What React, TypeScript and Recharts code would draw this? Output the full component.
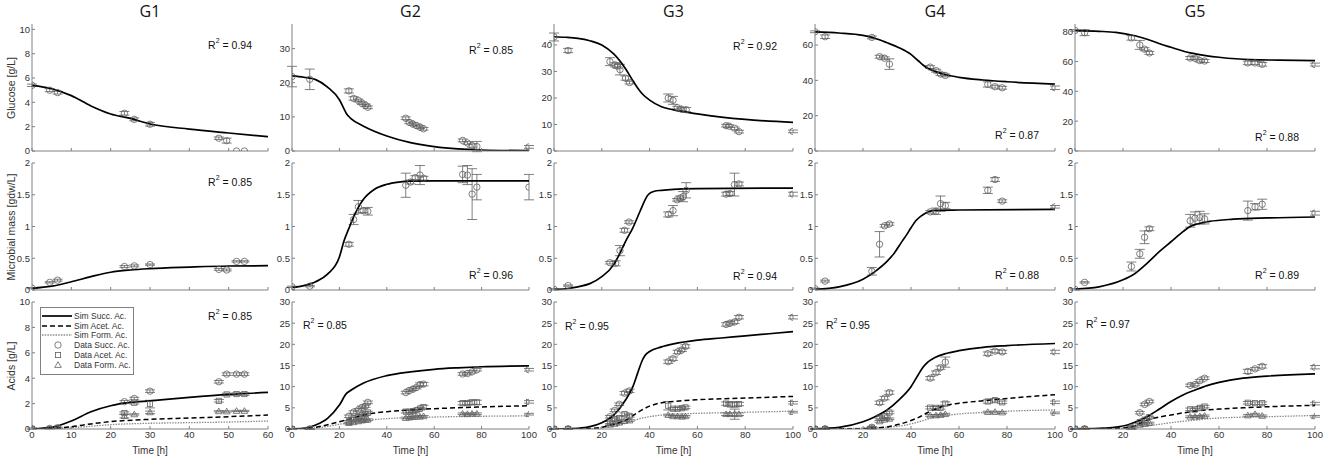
import React from "react";
import { ComposedChart, Line, Scatter, XAxis, YAxis, ErrorBar } from "recharts";

type Sim = [number, number][];
type Obs = [number, number, number][];

// ---------- G1 ----------
const G1_GLC_SIM: Sim = [[0, 5.4], [5, 5.12], [10, 4.55], [15, 3.7], [20, 3.04], [25, 2.68], [30, 2.22], [40, 1.8], [50, 1.48], [60, 1.18]];
const G1_GLC_OBS: Obs = [[0, 5.4, 0.1], [4.5, 5.0, 0.12], [6.5, 4.8, 0.12], [23.5, 3.1, 0.15], [26, 2.6, 0.12], [30, 2.2, 0.15], [47.5, 1.05, 0.1], [49.5, 0.85, 0.2], [52, 0, 0], [54, 0, 0]];
const G1_BIO_SIM: Sim = [[0, 0.026], [5, 0.06], [10, 0.13], [15, 0.21], [20, 0.28], [25, 0.315], [30, 0.336], [40, 0.36], [50, 0.378], [60, 0.383]];
const G1_BIO_OBS: Obs = [[0, 0.03, 0.01], [4.5, 0.12, 0.01], [6.5, 0.155, 0.015], [23.5, 0.37, 0.015], [26, 0.38, 0.015], [30, 0.4, 0.01], [47.5, 0.325, 0.015], [49.5, 0.315, 0.015], [52, 0.45, 0.01], [54, 0.45, 0.01]];
const G1_SUC_SIM: Sim = [[0, 0.02], [5, 0.13], [10, 0.63], [15, 1.36], [20, 1.83], [25, 2.09], [30, 2.22], [40, 2.49], [50, 2.72], [60, 2.88]];
const G1_ACE_SIM: Sim = [[0, 0], [5, 0.05], [10, 0.18], [15, 0.4], [20, 0.58], [30, 0.76], [40, 0.86], [50, 0.97], [60, 1.1]];
const G1_FOR_SIM: Sim = [[0, 0], [5, 0.03], [10, 0.1], [15, 0.22], [20, 0.34], [30, 0.45], [40, 0.5], [50, 0.55], [60, 0.63]];
const G1_SUC_OBS: Obs = [[0, 0.03, 0.05], [4.5, 0.05, 0.05], [6.5, 0.1, 0.05], [23.5, 2.15, 0.1], [26, 2.4, 0.1], [30, 2.98, 0.1], [47.5, 3.72, 0.1], [49.5, 4.32, 0.1], [52, 4.32, 0.1], [54, 4.32, 0.1]];
const G1_ACE_OBS: Obs = [[0, 0, 0], [4.5, 0, 0], [6.5, 0.05, 0], [23.5, 1.25, 0.1], [26, 2.07, 0.1], [30, 1.96, 0.3], [47.5, 2.22, 0.1], [49.5, 2.72, 0.1], [52, 2.75, 0.1], [54, 2.75, 0.1]];
const G1_FOR_OBS: Obs = [[0, 0, 0], [4.5, 0, 0], [6.5, 0, 0], [23.5, 1.02, 0.15], [26, 1.15, 0.05], [30, 1.31, 0.1], [47.5, 1.39, 0.05], [49.5, 1.38, 0.05], [52, 1.42, 0.05], [54, 1.42, 0.05]];

// ---------- G2 ----------
const G2_GLC_SIM: Sim = [[0, 22.0], [5, 21.6], [10, 20.9], [15, 18.7], [20, 15.0], [22, 12.3], [23, 10.9], [24, 10.1], [25, 9.4], [30, 7.35], [40, 4.4], [50, 2.45], [60, 1.27], [70, 0.6], [80, 0.3], [100, 0.1]];
const G2_GLC_OBS: Obs = [[0, 21.8, 3], [7.5, 21.0, 3], [24, 17.6, 0.6], [26, 15.4, 0.5], [28, 14.8, 0.4], [29.5, 14.0, 0.4], [31, 13.4, 0.4], [32, 12.8, 0.4], [48, 9.6, 0.4], [49.5, 8.4, 0.4], [51, 7.9, 0.4], [52.5, 7.45, 0.4], [54, 7.0, 0.4], [55.5, 6.5, 0.4], [72, 3.1, 0.4], [74, 2.35, 0.4], [76, 1.6, 0.5], [78, 1.3, 1.5], [100, 1.2, 0.4]];
const G2_BIO_SIM: Sim = [[0, 0.04], [5, 0.07], [10, 0.13], [15, 0.25], [20, 0.52], [22, 0.78], [24, 0.97], [26, 1.15], [28, 1.3], [30, 1.42], [35, 1.59], [40, 1.665], [45, 1.7], [50, 1.715], [60, 1.72], [100, 1.72]];
const G2_BIO_OBS: Obs = [[0, 0.05, 0.01], [7.5, 0.06, 0.01], [24, 0.72, 0.03], [26, 1.11, 0.08], [28, 1.31, 0.1], [30, 1.25, 0.03], [32, 1.24, 0.06], [48, 1.65, 0.19], [50, 1.7, 0.03], [52, 1.77, 0.03], [54, 1.81, 0.15], [55.5, 1.76, 0.03], [72, 1.82, 0.13], [74, 1.81, 0.15], [76, 1.51, 0.4], [78, 1.62, 0.2], [100, 1.62, 0.2]];
const G2_SUC_SIM: Sim = [[0, 0.05], [5, 0.15], [10, 0.95], [15, 2.5], [20, 5.65], [23, 8.4], [25, 9.2], [30, 10.8], [40, 12.6], [50, 13.5], [60, 14.1], [70, 14.45], [80, 14.7], [100, 14.9]];
const G2_ACE_SIM: Sim = [[0, 0], [5, 0.1], [10, 0.4], [15, 1.0], [20, 1.73], [25, 2.5], [30, 3.3], [40, 4.1], [50, 4.5], [60, 4.8], [80, 5.2], [100, 5.5]];
const G2_FOR_SIM: Sim = [[0, 0], [5, 0.08], [10, 0.25], [15, 0.6], [20, 1.1], [25, 1.55], [30, 1.95], [40, 2.45], [50, 2.7], [60, 2.83], [80, 3.0], [100, 3.1]];
const G2_SUC_OBS: Obs = [[0, 0, 0.1], [7.5, 0, 0.1], [24, 3.0, 0.3], [26, 4.0, 0.3], [28, 4.5, 0.3], [29.5, 5.1, 0.3], [31, 5.4, 0.3], [32, 6.3, 0.3], [48, 8.6, 0.3], [49.5, 9.1, 0.3], [51, 9.4, 0.3], [52.5, 9.8, 0.3], [54, 10.5, 0.4], [55.5, 10.6, 0.4], [72, 13.0, 0.3], [74, 13.1, 0.3], [76, 13.5, 0.3], [78, 14.0, 0.3], [100, 14.0, 0.3]];
const G2_ACE_OBS: Obs = [[0, 0, 0.1], [7.5, 0, 0.1], [24, 1.7, 0.3], [26, 2.5, 0.3], [28, 2.8, 0.3], [29.5, 3.2, 0.3], [31, 3.5, 0.3], [32, 3.9, 0.3], [48, 4.1, 0.3], [49.5, 4.1, 0.3], [51, 4.2, 0.3], [52.5, 4.4, 0.3], [54, 4.8, 0.3], [55.5, 5.2, 0.4], [72, 6.1, 0.4], [74, 6.1, 0.4], [76, 6.3, 0.5], [78, 6.3, 0.5], [100, 6.4, 0.3]];
const G2_FOR_OBS: Obs = [[0, 0, 0.1], [7.5, 0, 0.1], [24, 1.4, 0.2], [26, 1.6, 0.2], [28, 1.8, 0.2], [29.5, 2.0, 0.2], [31, 2.1, 0.2], [32, 2.2, 0.2], [48, 2.6, 0.2], [49.5, 2.7, 0.2], [51, 2.8, 0.2], [52.5, 2.9, 0.2], [54, 2.9, 0.2], [55.5, 3.0, 0.2], [72, 3.6, 0.2], [74, 3.5, 0.2], [76, 3.6, 0.2], [78, 3.6, 0.2], [100, 3.5, 0.2]];

// ---------- G3 ----------
const G3_GLC_SIM: Sim = [[0, 43.1], [5, 42.9], [10, 42.5], [15, 41.6], [20, 40.0], [25, 36.6], [30, 30.9], [33, 26.5], [35, 23.8], [37, 21.5], [40, 19.2], [45, 16.7], [50, 15.5], [60, 14.0], [70, 12.8], [80, 11.9], [100, 10.8]];
const G3_GLC_OBS: Obs = [[0, 43.0, 1.5], [5.9, 37.9, 0.8], [23.4, 33.7, 1.5], [25.5, 32.5, 0.8], [26.6, 32.0, 0.8], [27.6, 30.7, 2], [29.9, 27.5, 0.8], [31.6, 25.8, 0.5], [47.8, 20.0, 1.5], [49.8, 19.1, 1.5], [51.6, 16.35, 0.5], [53.3, 15.8, 0.5], [55.3, 15.6, 0.8], [72, 9.56, 0.5], [73.2, 9.4, 0.5], [75.6, 8.55, 0.5], [77.4, 7.3, 0.5], [100, 7.4, 0.5]];
const G3_BIO_SIM: Sim = [[0, 0.01], [5, 0.02], [10, 0.05], [15, 0.1], [20, 0.21], [25, 0.4], [28, 0.61], [30, 0.77], [33, 0.98], [36, 1.24], [38, 1.41], [39, 1.48], [40, 1.52], [42, 1.555], [45, 1.57], [50, 1.585], [60, 1.595], [100, 1.605]];
const G3_BIO_OBS: Obs = [[0, 0.01, 0.01], [5.9, 0.07, 0.01], [23.4, 0.43, 0.02], [25.8, 0.42, 0.04], [27.6, 0.62, 0.08], [29.5, 0.94, 0.03], [31.4, 1.07, 0.02], [47.8, 1.19, 0.04], [49.8, 1.25, 0.08], [51.5, 1.42, 0.02], [52.9, 1.45, 0.03], [54, 1.47, 0.08], [55.3, 1.57, 0.12], [72, 1.51, 0.03], [73.6, 1.52, 0.03], [75.5, 1.66, 0.18], [77.4, 1.67, 0.03], [100, 1.51, 0.03]];
const G3_SUC_SIM: Sim = [[0, 0], [5, 0.02], [10, 0.15], [15, 0.55], [20, 1.5], [25, 3.3], [30, 6.9], [33, 10.0], [35, 13.2], [37, 16.3], [38, 17.3], [40, 18.3], [45, 19.4], [50, 20.1], [60, 21.0], [70, 21.5], [80, 22.0], [100, 23.0]];
const G3_ACE_SIM: Sim = [[0, 0], [15, 0.1], [20, 0.4], [25, 1.1], [30, 2.1], [35, 3.9], [40, 5.4], [45, 6.2], [50, 6.5], [60, 6.9], [80, 7.3], [100, 7.7]];
const G3_FOR_SIM: Sim = [[0, 0], [15, 0.08], [20, 0.3], [25, 0.8], [30, 1.35], [35, 2.3], [40, 2.9], [45, 3.3], [50, 3.5], [60, 3.7], [80, 3.95], [100, 4.2]];
const G3_SUC_OBS: Obs = [[0, 0.05, 0.1], [5.9, 0.05, 0.1], [23.4, 2.9, 0.3], [25.4, 4.4, 0.3], [27.3, 5.85, 0.3], [29.5, 8.45, 0.4], [31.6, 9.0, 0.4], [47.8, 15.9, 0.4], [49.8, 16.6, 0.4], [51.7, 18.2, 0.4], [53.5, 18.7, 0.4], [55, 19.5, 0.4], [72, 24.7, 0.4], [73.6, 25.0, 0.4], [75.6, 25.3, 0.4], [77.4, 26.4, 0.4], [100, 26.4, 0.4]];
const G3_ACE_OBS: Obs = [[0, 0, 0.1], [5.9, 0, 0.1], [23.4, 1.5, 0.3], [25.4, 2.3, 0.3], [27.3, 2.6, 0.3], [29.5, 3.5, 0.3], [31.6, 3.1, 0.3], [47.8, 5.5, 1.0], [49.8, 4.8, 0.3], [51.7, 4.8, 0.3], [53.5, 4.9, 0.3], [55, 5.1, 0.3], [72, 6.0, 0.4], [73.6, 5.8, 0.4], [75.6, 5.8, 0.6], [77.4, 5.9, 0.4], [100, 6.2, 0.3]];
const G3_FOR_OBS: Obs = [[0, 0, 0.1], [5.9, 0, 0.1], [23.4, 1.0, 0.2], [25.4, 1.2, 0.2], [27.3, 1.5, 0.2], [29.5, 1.9, 0.2], [31.6, 2.0, 0.2], [47.8, 3.3, 0.2], [49.8, 3.0, 0.2], [51.7, 3.0, 0.2], [53.5, 2.9, 0.2], [55, 3.0, 0.2], [72, 3.5, 0.3], [73.6, 3.5, 0.3], [75.6, 3.5, 1.2], [77.4, 3.5, 0.3], [100, 4.0, 0.2]];

// ---------- G4 ----------
const G4_GLC_SIM: Sim = [[0, 67.4], [10, 66.8], [20, 65.5], [25, 63.8], [30, 61.3], [35, 58.5], [40, 54.7], [43, 51.1], [45, 48.7], [47, 46.8], [50, 45.1], [55, 43.0], [60, 41.7], [70, 40.2], [80, 39.2], [100, 37.9]];
const G4_GLC_OBS: Obs = [[0, 67.5, 0.5], [4.2, 64.7, 1], [23.7, 64.3, 0.8], [26.9, 53.4, 0.8], [29, 52.5, 0.8], [31, 49.2, 3], [48, 47.5, 0.8], [50.4, 45.5, 0.8], [52.3, 43.6, 0.8], [54.3, 42.8, 0.8], [72, 37.7, 1.5], [75, 36.4, 0.8], [78, 35.8, 0.8], [100, 35.8, 1]];
const G4_BIO_SIM: Sim = [[0, 0.01], [10, 0.05], [20, 0.17], [25, 0.29], [30, 0.45], [33, 0.58], [36, 0.75], [38, 0.86], [40, 0.98], [42, 1.09], [44, 1.16], [46, 1.21], [48, 1.24], [50, 1.255], [60, 1.26], [100, 1.27]];
const G4_BIO_OBS: Obs = [[0, 0.02, 0.01], [4.2, 0.14, 0.015], [23.7, 0.295, 0.06], [26.9, 0.72, 0.2], [29, 1.01, 0.02], [31, 1.04, 0.02], [48, 1.23, 0.02], [50.4, 1.24, 0.05], [52.3, 1.36, 0.12], [54.3, 1.33, 0.05], [72, 1.57, 0.05], [75, 1.74, 0.03], [78, 1.4, 0.02], [100, 1.31, 0.02]];
const G4_SUC_SIM: Sim = [[0, 0.05], [10, 0.4], [20, 1.7], [25, 2.9], [30, 4.5], [35, 6.9], [40, 10.0], [43, 12.8], [45, 14.6], [47, 15.8], [50, 16.9], [55, 17.9], [60, 18.5], [70, 19.3], [80, 19.7], [100, 20.2]];
const G4_ACE_SIM: Sim = [[0, 0], [20, 0.1], [30, 0.5], [35, 1.1], [40, 2.0], [43, 2.7], [47, 3.9], [50, 4.65], [54, 5.5], [60, 6.1], [71, 6.7], [80, 7.2], [100, 8.1]];
const G4_FOR_SIM: Sim = [[0, 0], [30, 0.4], [40, 1.2], [45, 2.0], [50, 2.8], [55, 3.2], [60, 3.55], [70, 3.9], [80, 4.2], [100, 4.5]];
const G4_SUC_OBS: Obs = [[0, 0.05, 0.1], [4.2, 0.05, 0.1], [23.7, 0.4, 0.2], [26.9, 6.2, 0.4], [29, 7.3, 0.4], [31, 8.6, 0.4], [48, 12.0, 0.4], [50.4, 13.3, 0.4], [52.3, 14.5, 0.4], [54.3, 15.8, 1.2], [72, 17.8, 0.4], [75, 18.4, 0.4], [78, 18.2, 0.4], [100, 18.2, 0.4]];
const G4_ACE_OBS: Obs = [[0, 0, 0.1], [4.2, 0, 0.1], [23.7, 0.3, 0.2], [26.9, 2.7, 0.3], [29, 3.0, 0.3], [31, 3.9, 0.3], [48, 5.05, 0.3], [50.4, 5.0, 0.3], [52.3, 5.0, 0.3], [54.3, 6.0, 0.4], [72, 6.5, 0.4], [75, 6.8, 0.4], [78, 6.3, 0.3], [100, 6.3, 0.3]];
const G4_FOR_OBS: Obs = [[0, 0, 0.1], [4.2, 0, 0.1], [23.7, 0.1, 0.1], [26.9, 1.8, 0.2], [29, 2.2, 0.2], [31, 2.4, 0.2], [48, 3.2, 0.2], [50.4, 3.2, 0.2], [52.3, 3.3, 0.2], [54.3, 3.5, 0.2], [72, 4.0, 0.2], [75, 4.0, 0.2], [78, 3.9, 0.2], [100, 3.8, 0.2]];

// ---------- G5 ----------
const G5_GLC_SIM: Sim = [[0, 80.7], [10, 80.2], [17, 79.5], [25, 77.2], [31, 74.4], [35, 72.0], [40, 69.5], [48, 65.7], [55, 63.8], [60, 62.8], [73, 61.2], [85, 60.9], [100, 60.6]];
const G5_GLC_OBS: Obs = [[0, 80.8, 0.5], [4, 79.3, 2], [23.5, 75.8, 1.5], [27, 71.1, 3], [29, 68.2, 1], [31, 65.7, 1], [48, 62.3, 1], [50, 62.1, 1], [52, 60.6, 1], [54, 60.3, 1], [72, 59.0, 1.2], [75, 59.0, 1], [78, 58.1, 1.2], [100, 57.9, 1]];
const G5_BIO_SIM: Sim = [[0, 0.015], [10, 0.05], [20, 0.16], [25, 0.26], [30, 0.42], [35, 0.6], [40, 0.76], [45, 0.92], [48, 1.0], [50, 1.03], [56, 1.08], [66, 1.115], [80, 1.135], [100, 1.15]];
const G5_BIO_OBS: Obs = [[0, 0.01, 0.01], [4, 0.12, 0.01], [23.5, 0.37, 0.07], [27, 0.57, 0.07], [29, 0.83, 0.1], [31, 0.965, 0.03], [48, 1.09, 0.1], [50, 1.13, 0.1], [52, 1.14, 0.1], [54, 1.12, 0.08], [72, 1.25, 0.15], [75, 1.31, 0.05], [78, 1.35, 0.08], [100, 1.21, 0.03]];
const G5_SUC_SIM: Sim = [[0, 0.05], [10, 0.15], [20, 0.7], [25, 1.6], [30, 2.9], [35, 4.65], [40, 6.5], [45, 8.05], [50, 9.2], [55, 10.25], [60, 11.0], [70, 12.0], [80, 12.5], [100, 13.0]];
const G5_ACE_SIM: Sim = [[0, 0], [20, 0.25], [25, 0.8], [30, 2.1], [35, 2.8], [40, 3.3], [45, 3.8], [50, 4.2], [60, 4.7], [70, 5.0], [80, 5.25], [100, 5.6]];
const G5_FOR_SIM: Sim = [[0, 0], [20, 0.15], [30, 0.7], [40, 1.5], [50, 2.1], [60, 2.6], [80, 2.9], [100, 3.2]];
const G5_SUC_OBS: Obs = [[0, 0.05, 0.1], [4, 0.05, 0.1], [23.5, 0.4, 0.2], [27, 3.85, 0.3], [29, 5.8, 0.3], [31, 6.5, 0.3], [48, 10.3, 0.3], [50, 10.5, 0.3], [52, 11.4, 0.3], [54, 12.0, 0.3], [72, 13.6, 0.5], [75, 14.2, 0.3], [78, 14.8, 0.4], [100, 14.6, 0.4]];
const G5_ACE_OBS: Obs = [[0, 0, 0.1], [4, 0, 0.1], [23.5, 0.2, 0.2], [27, 1.6, 0.2], [29, 2.2, 0.2], [31, 2.8, 0.2], [48, 4.65, 0.3], [50, 4.6, 0.3], [52, 5.0, 0.3], [54, 5.3, 0.3], [72, 6.2, 0.3], [75, 6.1, 0.3], [78, 6.1, 0.3], [100, 6.0, 0.3]];
const G5_FOR_OBS: Obs = [[0, 0, 0.1], [4, 0, 0.1], [23.5, 0, 0.1], [27, 1.0, 0.2], [29, 1.2, 0.2], [31, 1.4, 0.2], [48, 2.9, 0.2], [50, 2.9, 0.2], [52, 3.0, 0.2], [54, 3.1, 0.2], [72, 3.2, 0.2], [75, 3.5, 0.2], [78, 3.1, 0.2], [100, 3.0, 0.2]];

// axes
const GROUPS = ["G1", "G2", "G3", "G4", "G5"];
const X_MAX = [60, 100, 100, 100, 100];
const X_TICKS_60 = [0, 10, 20, 30, 40, 50, 60];
const X_TICKS_100 = [0, 20, 40, 60, 80, 100];
const GLC_MAX = [10.44, 37.2, 47.9, 71.9, 85.1];
const GLC_TICKS = [[0, 2, 4, 6, 8, 10], [0, 10, 20, 30], [0, 10, 20, 30, 40], [0, 20, 40, 60], [0, 20, 40, 60, 80]];
const BIO_TICKS = [0, 0.5, 1, 1.5, 2];
const ACID_MAX = [10, 30, 30, 30, 30];
const ACID_TICKS = [[0, 2, 4, 6, 8, 10], [0, 5, 10, 15, 20, 25, 30], [0, 5, 10, 15, 20, 25, 30], [0, 5, 10, 15, 20, 25, 30], [0, 5, 10, 15, 20, 25, 30]];
const R2_GLC = ["0.94", "0.85", "0.92", "0.87", "0.88"];
const R2_BIO = ["0.85", "0.96", "0.94", "0.88", "0.89"];
const R2_ACID = ["0.85", "0.85", "0.95", "0.95", "0.97"];
const ROW_LABELS = ["Glucose [g/L]", "Microbial mass [gdw/L]", "Acids [g/L]"];

const GLC_SIM = [G1_GLC_SIM, G2_GLC_SIM, G3_GLC_SIM, G4_GLC_SIM, G5_GLC_SIM];
const GLC_OBS = [G1_GLC_OBS, G2_GLC_OBS, G3_GLC_OBS, G4_GLC_OBS, G5_GLC_OBS];
const BIO_SIM = [G1_BIO_SIM, G2_BIO_SIM, G3_BIO_SIM, G4_BIO_SIM, G5_BIO_SIM];
const BIO_OBS = [G1_BIO_OBS, G2_BIO_OBS, G3_BIO_OBS, G4_BIO_OBS, G5_BIO_OBS];
const SUC_SIM = [G1_SUC_SIM, G2_SUC_SIM, G3_SUC_SIM, G4_SUC_SIM, G5_SUC_SIM];
const ACE_SIM = [G1_ACE_SIM, G2_ACE_SIM, G3_ACE_SIM, G4_ACE_SIM, G5_ACE_SIM];
const FOR_SIM = [G1_FOR_SIM, G2_FOR_SIM, G3_FOR_SIM, G4_FOR_SIM, G5_FOR_SIM];
const SUC_OBS = [G1_SUC_OBS, G2_SUC_OBS, G3_SUC_OBS, G4_SUC_OBS, G5_SUC_OBS];
const ACE_OBS = [G1_ACE_OBS, G2_ACE_OBS, G3_ACE_OBS, G4_ACE_OBS, G5_ACE_OBS];
const FOR_OBS = [G1_FOR_OBS, G2_FOR_OBS, G3_FOR_OBS, G4_FOR_OBS, G5_FOR_OBS];

// layout (plot-area boxes in page pixels)
const COL_LEFT = [32, 292, 554, 815, 1075];
const COL_RIGHT = [268, 529, 793, 1055, 1315];
const ROW_TOP = [24, 163, 302];
const ROW_BOTTOM = [151, 290, 429];
const Y_W = 30;
const X_H = 20;
const PAD = 5;
const PAD_R = 12;

const FONT = "'Liberation Sans', Arial, sans-serif";
const AXIS = "#808080";
const TXT = "#333333";
const MARK = "#606060";

type LineKind = "solid" | "dash" | "dot";
type MarkKind = "circle" | "square" | "triangle";

const LINE_STYLE: Record<LineKind, { stroke: string; width: number; dash?: string }> = {
  solid: { stroke: "#000", width: 1.7 },
  dash: { stroke: "#000", width: 1.5, dash: "5 3" },
  dot: { stroke: "#8a8a8a", width: 1.3, dash: "1.5 1.2" },
};

function markShape(kind: MarkKind) {
  return (p: any) => {
    const { cx, cy } = p;
    if (cx == null || cy == null) return <g />;
    if (kind === "circle") return <circle cx={cx} cy={cy} r={3.2} fill="none" stroke={MARK} strokeWidth={0.8} />;
    if (kind === "square") return <rect x={cx - 2.6} y={cy - 2.6} width={5.2} height={5.2} fill="none" stroke={MARK} strokeWidth={0.8} />;
    return <polygon points={`${cx},${cy - 3.3} ${cx + 3.3},${cy + 2.4} ${cx - 3.3},${cy + 2.4}`} fill="none" stroke={MARK} strokeWidth={0.8} />;
  };
}

type R2At = { corner: "tr" | "br" | "tl"; dy: number };

interface PanelProps {
  col: number;
  row: number;
  yMax: number;
  yTicks: number[];
  lines: { data: Sim; kind: LineKind }[];
  marks: { data: Obs; kind: MarkKind }[];
  r2: string;
  r2At: R2At;
}

function Panel({ col, row, yMax, yTicks, lines, marks, r2, r2At }: PanelProps) {
  const L = COL_LEFT[col];
  const R = COL_RIGHT[col];
  const T = ROW_TOP[row];
  const B = ROW_BOTTOM[row];
  const w = R - L;
  const h = B - T;
  const xMax = X_MAX[col];
  const xTicks = xMax === 60 ? X_TICKS_60 : X_TICKS_100;
  const showX = row === 2;
  const tickFont = { fontSize: 9.5, fill: TXT, fontFamily: FONT };

  let r2Style: React.CSSProperties;
  if (r2At.corner === "tl") r2Style = { left: L + 11, top: T + r2At.dy, transform: "translateY(-50%)" };
  else if (r2At.corner === "tr") r2Style = { left: R - 16, top: T + r2At.dy, transform: "translate(-100%, -50%)" };
  else r2Style = { left: R - 16, top: B - r2At.dy, transform: "translate(-100%, -50%)" };

  return (
    <>
      <div style={{ position: "absolute", left: L - Y_W, top: T - PAD }}>
        <ComposedChart width={w + Y_W + PAD_R} height={h + PAD + X_H} margin={{ top: PAD, right: PAD_R, bottom: 0, left: 0 }}>
          <XAxis
            xAxisId="b"
            dataKey="t"
            type="number"
            domain={[0, xMax]}
            ticks={xTicks}
            interval={0}
            allowDataOverflow
            height={X_H}
            tickSize={-3}
            tickMargin={5}
            stroke={AXIS}
            tick={tickFont}
            tickFormatter={(v: number) => (showX ? String(v) : "")}
          />
          <XAxis
            xAxisId="t"
            orientation="top"
            type="number"
            domain={[0, xMax]}
            ticks={xTicks}
            interval={0}
            allowDataOverflow
            height={0}
            tickSize={-3}
            stroke={AXIS}
            tick={tickFont}
            tickFormatter={() => ""}
          />
          <YAxis
            yAxisId="l"
            dataKey="y"
            type="number"
            domain={[0, yMax]}
            ticks={yTicks}
            interval={0}
            allowDataOverflow
            width={Y_W}
            tickSize={-3}
            tickMargin={5}
            stroke={AXIS}
            tick={tickFont}
          />
          <YAxis
            yAxisId="r"
            orientation="right"
            type="number"
            domain={[0, yMax]}
            ticks={yTicks}
            interval={0}
            allowDataOverflow
            width={0}
            tickSize={-3}
            stroke={AXIS}
            tick={tickFont}
            tickFormatter={() => ""}
          />
          {marks.map((m, i) => (
            <Scatter
              key={`m${i}`}
              xAxisId="b"
              yAxisId="l"
              data={m.data.map(([t, y, e]) => ({ t, y, e }))}
              shape={markShape(m.kind)}
              isAnimationActive={false}
            >
              <ErrorBar dataKey="e" direction="y" width={5} stroke={MARK} strokeWidth={0.8} />
            </Scatter>
          ))}
          {lines.map((ln, i) => {
            const s = LINE_STYLE[ln.kind];
            return (
              <Line
                key={`l${i}`}
                xAxisId="b"
                yAxisId="l"
                data={ln.data.map(([t, y]) => ({ t, y }))}
                dataKey="y"
                type="monotone"
                dot={false}
                activeDot={false}
                stroke={s.stroke}
                strokeWidth={s.width}
                strokeDasharray={s.dash}
                isAnimationActive={false}
              />
            );
          })}
        </ComposedChart>
      </div>
      <div style={{ position: "absolute", whiteSpace: "nowrap", fontFamily: FONT, fontSize: 10.5, color: "#111", lineHeight: "12px", ...r2Style }}>
        R<span style={{ fontSize: 7, verticalAlign: "top", lineHeight: "8px", position: "relative", top: -2 }}>2</span> = {r2}
      </div>
    </>
  );
}

const LEGEND_ITEMS: { label: string; line?: LineKind; mark?: MarkKind }[] = [
  { label: "Sim Succ. Ac.", line: "solid" },
  { label: "Sim Acet. Ac.", line: "dash" },
  { label: "Sim Form. Ac.", line: "dot" },
  { label: "Data Succ. Ac.", mark: "circle" },
  { label: "Data Acet. Ac.", mark: "square" },
  { label: "Data Form. Ac.", mark: "triangle" },
];

function LegendBox() {
  return (
    <div
      style={{
        position: "absolute",
        left: 40,
        top: 307,
        width: 94,
        height: 68,
        border: `1px solid ${AXIS}`,
        background: "#fff",
        boxSizing: "border-box",
        fontFamily: FONT,
        fontSize: 8.5,
        color: TXT,
      }}
    >
      {LEGEND_ITEMS.map((it, i) => {
        const s = it.line ? LINE_STYLE[it.line] : null;
        return (
          <div key={it.label} style={{ position: "absolute", left: 0, top: 3 + i * 9.7, height: 10, display: "flex", alignItems: "center" }}>
            <svg width={33} height={10} style={{ display: "block" }}>
              {s && <line x1={1} y1={5} x2={31} y2={5} stroke={s.stroke} strokeWidth={s.width} strokeDasharray={s.dash} />}
              {it.mark && markShape(it.mark)({ cx: 17, cy: 5 })}
            </svg>
            <span style={{ whiteSpace: "nowrap", lineHeight: "10px" }}>{it.label}</span>
          </div>
        );
      })}
    </div>
  );
}

export default function App() {
  const rowCenters = ROW_TOP.map((t, i) => (t + ROW_BOTTOM[i]) / 2);
  const glcR2: R2At[] = [
    { corner: "tr", dy: 21 },
    { corner: "tr", dy: 26 },
    { corner: "tr", dy: 22 },
    { corner: "br", dy: 16 },
    { corner: "br", dy: 14 },
  ];
  const bioR2: R2At[] = [
    { corner: "tr", dy: 19 },
    { corner: "br", dy: 15 },
    { corner: "br", dy: 14 },
    { corner: "br", dy: 15 },
    { corner: "br", dy: 15 },
  ];
  const acidR2: R2At[] = [
    { corner: "tr", dy: 14 },
    { corner: "tl", dy: 23 },
    { corner: "tl", dy: 24 },
    { corner: "tl", dy: 23 },
    { corner: "tl", dy: 22 },
  ];
  return (
    <div style={{ position: "absolute", left: 0, top: 0, width: 1325, height: 463, background: "#fff", overflow: "hidden", fontFamily: FONT }}>
      {GROUPS.map((g, c) => (
        <React.Fragment key={g}>
          <div
            style={{
              position: "absolute",
              left: (COL_LEFT[c] + COL_RIGHT[c]) / 2,
              top: 11,
              transform: "translate(-50%, -50%)",
              fontFamily: "'Open Sans', sans-serif",
              fontSize: 16,
              color: "#111",
            }}
          >
            {g}
          </div>
          <Panel
            col={c}
            row={0}
            yMax={GLC_MAX[c]}
            yTicks={GLC_TICKS[c]}
            lines={[{ data: GLC_SIM[c], kind: "solid" }]}
            marks={[{ data: GLC_OBS[c], kind: "circle" }]}
            r2={R2_GLC[c]}
            r2At={glcR2[c]}
          />
          <Panel
            col={c}
            row={1}
            yMax={2}
            yTicks={BIO_TICKS}
            lines={[{ data: BIO_SIM[c], kind: "solid" }]}
            marks={[{ data: BIO_OBS[c], kind: "circle" }]}
            r2={R2_BIO[c]}
            r2At={bioR2[c]}
          />
          <Panel
            col={c}
            row={2}
            yMax={ACID_MAX[c]}
            yTicks={ACID_TICKS[c]}
            lines={[
              { data: FOR_SIM[c], kind: "dot" },
              { data: ACE_SIM[c], kind: "dash" },
              { data: SUC_SIM[c], kind: "solid" },
            ]}
            marks={[
              { data: FOR_OBS[c], kind: "triangle" },
              { data: ACE_OBS[c], kind: "square" },
              { data: SUC_OBS[c], kind: "circle" },
            ]}
            r2={R2_ACID[c]}
            r2At={acidR2[c]}
          />
          <div
            style={{
              position: "absolute",
              left: (COL_LEFT[c] + COL_RIGHT[c]) / 2,
              top: 450,
              transform: "translate(-50%, -50%)",
              fontSize: 10,
              color: TXT,
              whiteSpace: "nowrap",
            }}
          >
            Time [h]
          </div>
        </React.Fragment>
      ))}
      {ROW_LABELS.map((lab, i) => (
        <div
          key={lab}
          style={{
            position: "absolute",
            left: 11,
            top: rowCenters[i],
            transform: "translate(-50%, -50%) rotate(-90deg)",
            fontSize: 10.5,
            color: TXT,
            whiteSpace: "nowrap",
          }}
        >
          {lab}
        </div>
      ))}
      <LegendBox />
    </div>
  );
}
